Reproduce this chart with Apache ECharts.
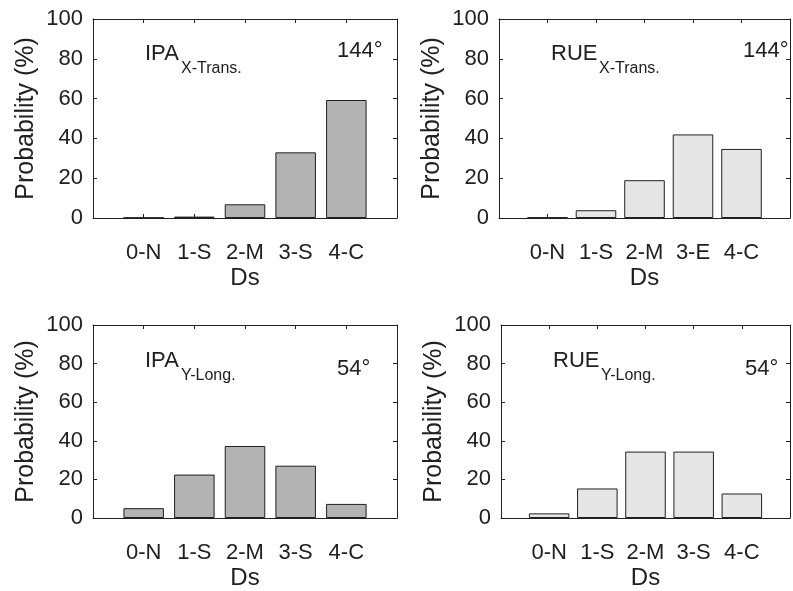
<!DOCTYPE html>
<html>
<head>
<meta charset="utf-8">
<script src="https://cdn.jsdelivr.net/npm/echarts@6/dist/echarts.min.js"></script>
<style>
  html, body { margin: 0; padding: 0; background: #fff; }
  #chart { width: 793px; height: 591px; }
</style>
</head>
<body>
<div id="chart"></div>
<script>
// Damage-state categories (x axis tick labels)
const dsLabels = ['0-N', '1-S', '2-M', '3-S', '4-C'];
const dsLabelsRueX = ['0-N', '1-S', '2-M', '3-E', '4-C'];

// Probability of each damage state (%)
const ipaXTrans = [0.2, 0.7, 6.9, 33.0, 59.3];
const rueXTrans = [0.3, 3.9, 19.0, 42.0, 34.7];
const ipaYLong  = [5.1, 22.5, 37.3, 27.1, 7.3];
const rueYLong  = [2.4, 15.3, 34.4, 34.4, 12.7];

// Y axis scale
const yMin = 0, yMax = 100, yStep = 20;

const ink = '#202020';
const fontFamily = '"Liberation Sans", Arial, Helvetica, sans-serif';

const panels = [
  { left: 93,  top: 19,  height: 199, values: ipaXTrans, cats: dsLabels,     fill: '#b3b3b3',
    main: 'IPA', sub: 'X-Trans.', angle: '144°', subDx: 36, mainDy: 35, subDy: 50, angDy: 32 },
  { left: 499, top: 19,  height: 199, values: rueXTrans, cats: dsLabelsRueX, fill: '#e6e6e6',
    main: 'RUE', sub: 'X-Trans.', angle: '144°', subDx: 48, mainDy: 35, subDy: 50, angDy: 32 },
  { left: 93,  top: 325, height: 197, values: ipaYLong,  cats: dsLabels,     fill: '#b3b3b3',
    main: 'IPA', sub: 'Y-Long.',  angle: '54°',  subDx: 36, mainDy: 36, subDy: 51, angDy: 44 },
  { left: 501, top: 325, height: 197, values: rueYLong,  cats: dsLabels,     fill: '#e6e6e6',
    main: 'RUE', sub: 'Y-Long.',  angle: '54°',  subDx: 48, mainDy: 36, subDy: 51, angDy: 44 }
];
const plotWidth = 304;
const xSpan = 6; // categories sit at 1..5 on a 0..6 scale

const grid = [], xAxis = [], yAxis = [], series = [], graphic = [];

panels.forEach((p, i) => {
  grid.push({ left: p.left, top: p.top, width: plotWidth, height: p.height, containLabel: false });

  const cats = p.cats;
  // bottom axis with labels
  xAxis.push({
    gridIndex: i, type: 'value', min: 0, max: xSpan, interval: 1, position: 'bottom',
    axisLine: { show: true, onZero: false, lineStyle: { color: ink, width: 1 } },
    axisTick: { show: true, inside: true, length: 4, lineStyle: { color: ink } },
    splitLine: { show: false },
    axisLabel: {
      color: ink, fontFamily, fontSize: 22, margin: 24,
      formatter: v => (v >= 1 && v <= cats.length) ? cats[v - 1] : ''
    },
    name: 'Ds', nameLocation: 'middle', nameGap: 48,
    nameTextStyle: { color: ink, fontFamily, fontSize: 24 }
  });
  // top axis, ticks only
  xAxis.push({
    gridIndex: i, type: 'value', min: 0, max: xSpan, interval: 1, position: 'top',
    axisLine: { show: true, onZero: false, lineStyle: { color: ink, width: 1 } },
    axisTick: { show: true, inside: true, length: 4, lineStyle: { color: ink } },
    splitLine: { show: false }, axisLabel: { show: false }
  });
  // left axis with labels
  yAxis.push({
    gridIndex: i, type: 'value', min: yMin, max: yMax, interval: yStep, position: 'left',
    axisLine: { show: true, onZero: false, lineStyle: { color: ink, width: 1 } },
    axisTick: { show: true, inside: true, length: 4, lineStyle: { color: ink } },
    splitLine: { show: false },
    axisLabel: { color: ink, fontFamily, fontSize: 22, margin: 10 },
    name: 'Probability (%)', nameLocation: 'middle', nameGap: 54,
    nameTextStyle: { color: ink, fontFamily, fontSize: 25 }
  });
  // right axis, ticks only
  yAxis.push({
    gridIndex: i, type: 'value', min: yMin, max: yMax, interval: yStep, position: 'right',
    axisLine: { show: true, onZero: false, lineStyle: { color: ink, width: 1 } },
    axisTick: { show: true, inside: true, length: 4, lineStyle: { color: ink } },
    splitLine: { show: false }, axisLabel: { show: false }
  });

  series.push({
    type: 'bar',
    xAxisIndex: 2 * i, yAxisIndex: 2 * i,
    data: p.values.map((v, k) => [k + 1, v]),
    barWidth: 0.8 * plotWidth / xSpan,
    itemStyle: { color: p.fill, borderColor: ink, borderWidth: 1 },
    emphasis: { disabled: true },
    silent: true,
    z: 1
  });

  // panel annotations: response parameter with subscript direction, and incidence angle
  graphic.push({
    type: 'text', left: p.left + 52, top: p.top + p.mainDy - 11,
    style: { text: p.main, fill: ink, font: `22px ${fontFamily}` }
  });
  graphic.push({
    type: 'text', left: p.left + 52 + p.subDx, top: p.top + p.subDy - 8,
    style: { text: p.sub, fill: ink, font: `16px ${fontFamily}` }
  });
  graphic.push({
    type: 'text', left: p.left + 244, top: p.top + p.angDy - 11,
    style: { text: p.angle, fill: ink, font: `22px ${fontFamily}` }
  });
});

const chart = echarts.init(document.getElementById('chart'), null, { renderer: 'canvas' });
chart.setOption({
  animation: false,
  backgroundColor: '#ffffff',
  grid, xAxis, yAxis, series, graphic
});
</script>
</body>
</html>
